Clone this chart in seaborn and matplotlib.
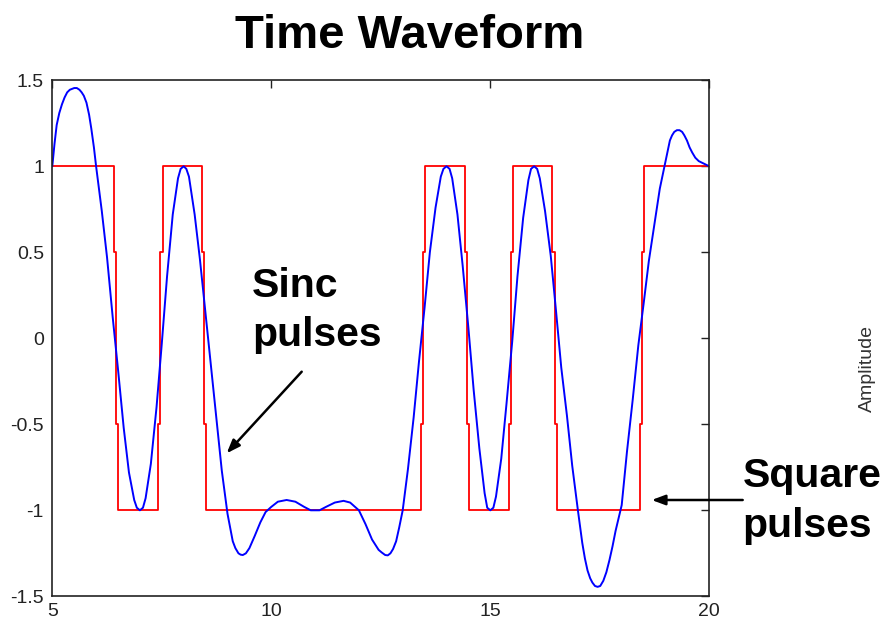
import numpy as np
import pandas as pd
import matplotlib
matplotlib.use("Agg")
import matplotlib.pyplot as plt
import seaborn as sns

# ---------------- data ----------------
# symbol levels of the square pulse train (one per unit time slot)
sym_t = [5, 6, 7, 8, 9, 10, 11, 12, 13, 14, 15, 16, 17, 18, 19, 20]
sym_v = [1, 1, -1, 1, -1, -1, -1, -1, -1, 1, -1, 1, -1, -1, 1, 1]
# times at which the square wave switches level
sq_edges = [6.46, 7.47, 8.47, 13.47, 14.47, 15.47, 16.47, 18.47]

# sinc-pulse waveform
blue_t = [5.00, 5.05, 5.10, 5.16, 5.22, 5.28, 5.34, 5.40, 5.45, 5.50,
          5.56, 5.62, 5.67, 5.72, 5.78, 5.84, 5.89, 5.95, 6.00,
          6.13, 6.25, 6.38, 6.50, 6.63, 6.75, 6.87, 6.93, 7.00, 7.07, 7.13, 7.25,
          7.38, 7.50, 7.62, 7.75, 7.87, 7.93, 8.00, 8.06, 8.12, 8.25, 8.37, 8.50,
          8.62, 8.75, 8.87, 9.00, 9.12, 9.18, 9.25, 9.30, 9.35, 9.42, 9.50, 9.62, 9.75,
          9.87, 10.00, 10.15, 10.35, 10.55, 10.75, 10.90, 11.10, 11.25, 11.45,
          11.65, 11.80, 12.00, 12.15, 12.30, 12.45, 12.52, 12.60, 12.66, 12.72,
          12.78, 12.85, 12.92, 13.00,
          13.12, 13.25, 13.37, 13.50, 13.62, 13.75, 13.87, 13.93, 14.00, 14.07, 14.13, 14.25,
          14.37, 14.50, 14.62, 14.75, 14.87, 14.93, 15.00, 15.07, 15.13, 15.25, 15.37, 15.50,
          15.62, 15.75, 15.87, 15.93, 16.00, 16.07, 16.13, 16.25, 16.38, 16.50, 16.62, 16.75,
          16.87, 17.00, 17.10, 17.16, 17.22, 17.28, 17.33, 17.39, 17.45, 17.51, 17.58,
          17.65, 17.72, 17.79, 17.86, 18.00,
          18.12, 18.25, 18.38, 18.50, 18.62, 18.75, 18.87, 19.00, 19.10, 19.15, 19.20,
          19.26, 19.32, 19.38, 19.43, 19.49, 19.55, 19.61, 19.68, 19.76, 19.84, 19.92, 20.00]
blue_v = [1.00, 1.13, 1.24, 1.31, 1.36, 1.40, 1.43, 1.445, 1.45, 1.455,
          1.455, 1.445, 1.43, 1.41, 1.37, 1.30, 1.22, 1.11, 1.00,
          0.74, 0.47, 0.12, -0.18, -0.52, -0.78, -0.94, -0.985, -1.00, -0.985, -0.93, -0.73,
          -0.40, -0.03, 0.36, 0.72, 0.93, 0.985, 1.00, 0.985, 0.94, 0.72, 0.46, 0.14,
          -0.16, -0.47, -0.77, -1.02, -1.18, -1.22, -1.25, -1.258, -1.26, -1.25, -1.22, -1.15, -1.07,
          -1.01, -0.98, -0.95, -0.94, -0.95, -0.98, -1.00, -1.00, -0.98, -0.955,
          -0.945, -0.955, -1.00, -1.08, -1.17, -1.23, -1.245, -1.26, -1.262, -1.25,
          -1.225, -1.18, -1.10, -1.00,
          -0.76, -0.46, -0.14, 0.18, 0.50, 0.76, 0.94, 0.985, 1.00, 0.985, 0.93, 0.72,
          0.42, 0.06, -0.30, -0.64, -0.90, -0.985, -1.00, -0.985, -0.92, -0.70, -0.38, -0.02,
          0.36, 0.70, 0.92, 0.985, 1.00, 0.985, 0.93, 0.74, 0.48, 0.16, -0.17, -0.45,
          -0.74, -1.00, -1.19, -1.28, -1.35, -1.395, -1.42, -1.44, -1.445, -1.44, -1.41,
          -1.36, -1.29, -1.21, -1.12, -0.97,
          -0.66, -0.36, -0.04, 0.20, 0.45, 0.67, 0.87, 1.03, 1.15, 1.18, 1.20,
          1.21, 1.21, 1.20, 1.18, 1.15, 1.11, 1.08, 1.05, 1.03, 1.02, 1.01, 1.00]

x_ticks = [5, 10, 15, 20]
y_ticks = [-1.5, -1, -0.5, 0, 0.5, 1, 1.5]
y_tick_labels = ["-1.5", "-1", "-0.5", "0", "0.5", "1", "1.5"]

title = "Time Waveform"
ylabel = "Amplitude"

# ---------------- build the square-wave path ----------------
levels = []
for i, t in enumerate(sym_t):
    if i == 0 or sym_v[i] != sym_v[i - 1]:
        levels.append(sym_v[i])
jog = 0.05
red_x = [sym_t[0]]
red_y = [levels[0]]
for k, e in enumerate(sq_edges):
    a, b = levels[k], levels[k + 1]
    red_x += [e - jog, e - jog, e, e, e + jog, e + jog]
    red_y += [a, a + (b - a) * 0.25, a + (b - a) * 0.25,
              a + (b - a) * 0.75, a + (b - a) * 0.75, b]
red_x.append(sym_t[-1])
red_y.append(levels[-1])

red_df = pd.DataFrame({"t": red_x, "v": red_y})
blue_df = pd.DataFrame({"t": blue_t, "v": blue_v})

# ---------------- plotting ----------------
sns.set_style("white")
plt.rcParams["font.family"] = ["Liberation Sans", "DejaVu Sans"]

W, H = 888, 625
fig = plt.figure(figsize=(W / 100, H / 100), dpi=100)
L, R, T, B = 52.3, 709.3, 80.3, 596.3
ax = fig.add_axes([L / W, 1 - B / H, (R - L) / W, (B - T) / H])

sns.lineplot(data=red_df, x="t", y="v", sort=False, estimator=None,
             color="#ff0000", lw=1.3, ax=ax)
sns.lineplot(data=blue_df, x="t", y="v", sort=False, estimator=None,
             color="#0000ff", lw=1.4, ax=ax)

ax.set_xlim(5, 20)
ax.set_ylim(-1.5, 1.5)
ax.set_xticks(x_ticks)
ax.set_xticklabels([str(v) for v in x_ticks])
ax.set_yticks(y_ticks)
ax.set_yticklabels(y_tick_labels)
ax.set_xlabel("")
ax.set_ylabel("")
ax.tick_params(direction="in", length=6, width=1, color="#222222",
               top=True, right=True, labelsize=14, labelcolor="#222222")
ax.tick_params(axis="y", pad=6)
ax.tick_params(axis="x", pad=5)
for sp in ax.spines.values():
    sp.set_visible(True)
    sp.set_color("#222222")
    sp.set_linewidth(1.2)


def px2data(px, py):
    return 5 + (px - L) / (R - L) * 15, 1.5 - (py - T) / (B - T) * 3


# Title
fig.text(410 / W, 1 - 48.3 / H, title, ha="center", va="baseline",
         fontsize=34, fontweight="bold", color="black")

# Right side label
fig.text(867 / W, 1 - 369 / H, ylabel, rotation=90, ha="center", va="center",
         fontsize=14, color="#333333")

# Sinc pulses annotation
x0, y0 = px2data(251.7, 296.7)
ax.text(x0, y0, "Sinc", ha="left", va="baseline", fontsize=29.5,
        fontweight="bold", color="black", clip_on=False)
x0, y0 = px2data(252.5, 346.0)
ax.text(x0, y0, "pulses", ha="left", va="baseline", fontsize=29.5,
        fontweight="bold", color="black", clip_on=False)
tail = px2data(301.7, 371.7)
head = px2data(226.7, 453.3)
ax.annotate("", xy=head, xytext=tail,
            arrowprops=dict(arrowstyle="-|>,head_length=0.8,head_width=0.3",
                            color="black", lw=1.8, shrinkA=0, shrinkB=0),
            annotation_clip=False)

# Square pulses annotation
x0, y0 = px2data(742.7, 486.7)
ax.text(x0, y0, "Square", ha="left", va="baseline", fontsize=29.5,
        fontweight="bold", color="black", clip_on=False)
x0, y0 = px2data(742.0, 536.7)
ax.text(x0, y0, "pulses", ha="left", va="baseline", fontsize=29.5,
        fontweight="bold", color="black", clip_on=False)
tail = px2data(742.7, 500.0)
head = px2data(651.7, 500.0)
ax.annotate("", xy=head, xytext=tail,
            arrowprops=dict(arrowstyle="-|>,head_length=0.8,head_width=0.3",
                            color="black", lw=1.8, shrinkA=0, shrinkB=0),
            annotation_clip=False)

fig.savefig("out.png", dpi=100, facecolor="white")
